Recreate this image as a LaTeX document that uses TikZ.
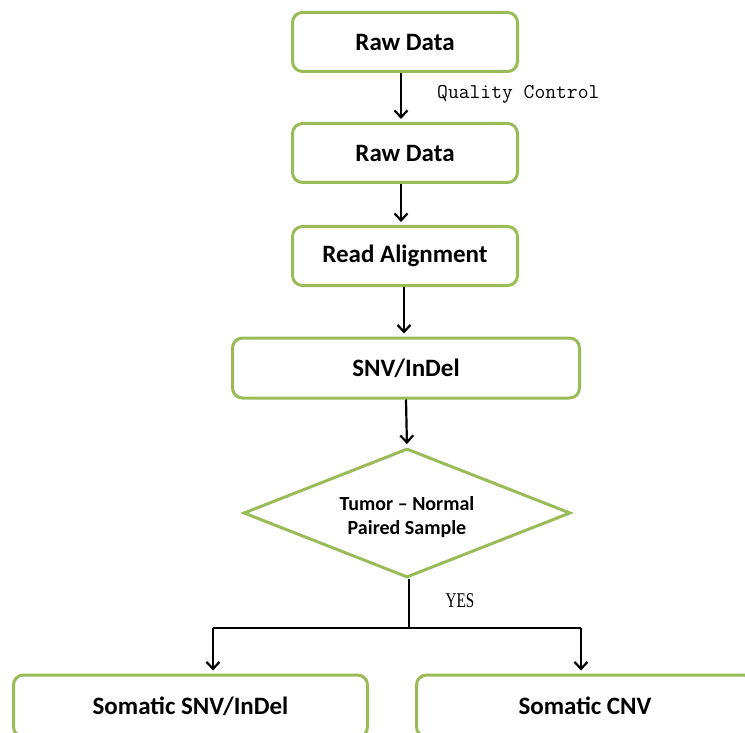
\documentclass[tikz,border=0pt]{standalone}
\usepackage{fontspec}
\usepackage{graphicx}
\setmainfont{Carlito}
\newfontfamily\labelserif{Liberation Serif}
\usetikzlibrary{shapes.geometric,arrows.meta}
\definecolor{boxgreen}{HTML}{9BBB59}
\tikzset{
  stepbox/.style={draw=boxgreen, line width=3pt, rounded corners=10pt, fill=white,
    font=\fontsize{25}{29}\selectfont\bfseries, inner sep=0pt},
  decision/.style={draw=boxgreen, line width=3pt, shape=diamond, aspect=2.5,
    minimum width=327pt, minimum height=129pt, inner sep=0pt},
  decisiontext/.style={align=center, inner sep=0pt,
    font=\fontsize{20}{24}\selectfont\bfseries},
  arr/.style={draw=black, line width=2.2pt, -{Straight Barb[length=7pt,width=13pt,line width=2.2pt]}, shorten >=3pt},
  ln/.style={draw=black, line width=2.2pt},
  qclabel/.style={font=\fontsize{21}{24}\selectfont\ttfamily, inner sep=0pt},
  yeslabel/.style={font=\fontsize{21}{24}\selectfont\labelserif, inner sep=0pt}
}
\begin{document}
\begin{tikzpicture}[x=1pt,y=-1pt]
  \useasboundingbox (0,0) rectangle (745,733);
  \clip (0,0) rectangle (745,733);

  % processing steps
  \node[stepbox, minimum width=225pt, minimum height=59pt] (raw1) at (405,42) {Raw Data};
  \node[stepbox, minimum width=225pt, minimum height=59pt] (raw2) at (405,153) {Raw Data};
  \node[stepbox, minimum width=225pt, minimum height=59pt] (align) at (405,256) {Read Alignment};
  \node[stepbox, minimum width=347pt, minimum height=60pt] (snv) at (406,368) {SNV/InDel};

  % decision
  \node[decision] (pair) at (407,513) {};
  \node[decisiontext] (pairtext) at ([yshift=-4pt]pair.center) {Tumor -- Normal\\Paired Sample};

  % results
  \node[stepbox, minimum width=354pt, minimum height=62pt] (ssnv) at (190.5,706) {Somatic SNV/InDel};
  \node[stepbox, minimum width=337pt, minimum height=62pt] (scnv) at (585,706) {Somatic CNV};

  % connectors
  \draw[arr] ([xshift=-4pt]raw1.south) -- ([xshift=-4pt]raw2.north);
  \draw[arr] ([xshift=-4pt]raw2.south) -- ([xshift=-4pt]align.north);
  \draw[arr] ([xshift=-1pt]align.south) -- ([xshift=-2pt]snv.north);
  \draw[arr] (snv.south) -- (pair.north);

  \coordinate (split) at (409,628);
  \coordinate (jl) at (213,628);
  \coordinate (jr) at (581,628);
  \draw[ln] ([xshift=2pt]pair.south) -- (split);
  \draw[ln] (jl) -- (jr);
  \draw[arr] (jl) -- (jl |- ssnv.north);
  \draw[arr] (jr) -- (jr |- scnv.north);

  % labels
  \node[qclabel, anchor=west] (qc) at (437,94) {Quality Control};
  \node[yeslabel] (yes) at (460,601) {\scalebox{0.72}[1]{YES}};
\end{tikzpicture}
\end{document}
